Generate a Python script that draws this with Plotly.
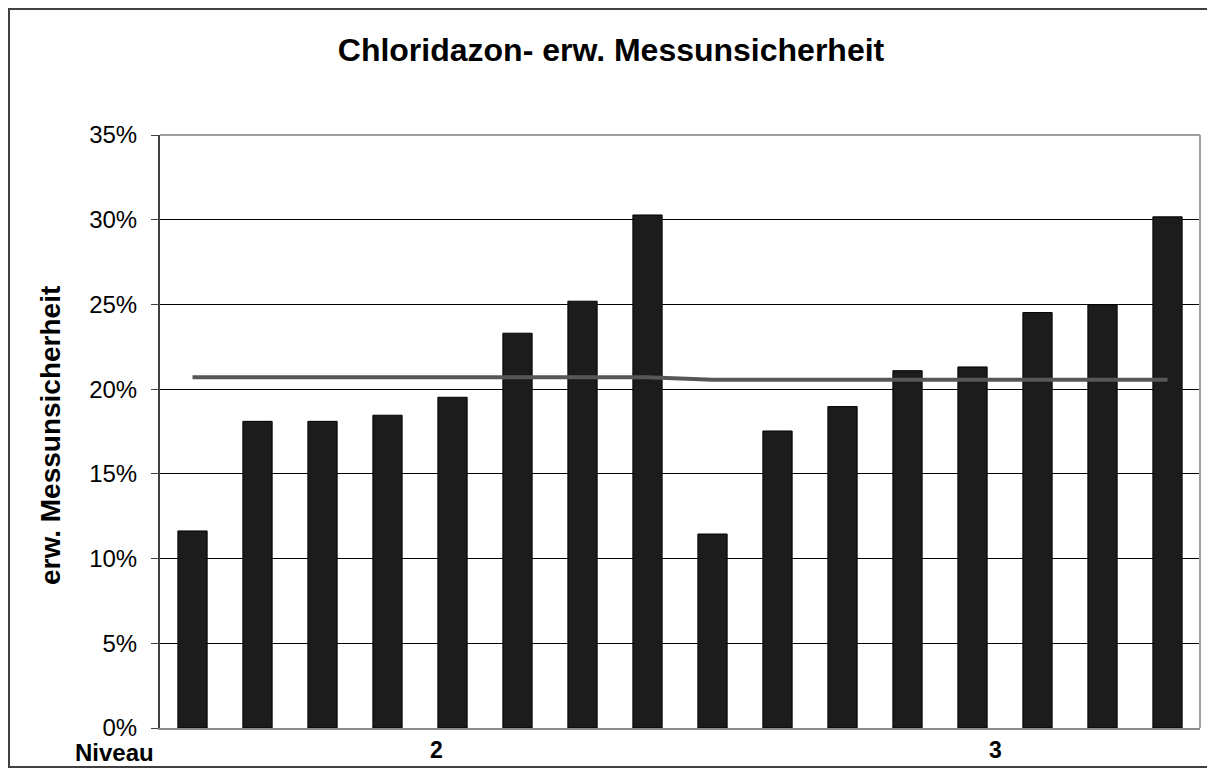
import plotly.graph_objects as go

# Messunsicherheit je Messung (in %), Niveau 2 und 3
niveau = ["2"] * 8 + ["3"] * 8
werte = [11.63, 18.10, 18.10, 18.46, 19.52, 23.30, 25.19, 30.28,
         11.45, 17.53, 18.97, 21.09, 21.31, 24.52, 24.99, 30.17]
mittel = [20.70] * 8 + [20.55] * 8
y_ticks = [0, 5, 10, 15, 20, 25, 30, 35]
y_labels = [f"{v}%" for v in y_ticks]

pos = list(range(len(werte)))
font = "Arial, Liberation Sans, sans-serif"

fig = go.Figure()
fig.add_trace(go.Bar(
    x=pos, y=werte,
    marker=dict(color="#1c1c1c", line=dict(color="#000000", width=1)),
    showlegend=False,
))
fig.add_trace(go.Scatter(
    x=pos, y=mittel, mode="lines",
    line=dict(color="#575757", width=4),
    showlegend=False,
))

# page has 8px body margin -> figure is 8px smaller, margins shifted
fig.update_layout(
    width=1207, height=762,
    margin=dict(l=152, r=15, t=127, b=42),
    paper_bgcolor="white", plot_bgcolor="white",
    bargap=0.55,
    font=dict(family=font, color="black"),
    title=dict(text="<b>Chloridazon- erw. Messunsicherheit</b>",
               x=(611 - 8) / 1207, xanchor="center", xref="container",
               y=1 - 42 / 762, yanchor="middle", yref="container",
               font=dict(size=32, family=font, color="black")),
)

fig.update_xaxes(
    range=[-0.5, 15.5], showticklabels=False, ticks="",
    showgrid=False, zeroline=False,
    showline=True, linecolor="#8c8c8c", linewidth=2,
)
fig.update_yaxes(
    range=[0, 35], tickvals=y_ticks, ticktext=y_labels,
    tickfont=dict(size=24, family=font, color="black"),
    ticks="outside", ticklen=7, tickcolor="#404040",
    ticklabelstandoff=9,
    showgrid=True, gridcolor="#000000", gridwidth=1,
    zeroline=False,
    showline=True, linecolor="#404040", linewidth=2,
)

# Rahmen des Diagrammbereichs (oben/rechts grau)
fig.add_shape(type="line", xref="paper", yref="paper", x0=0, x1=1, y0=1, y1=1,
              line=dict(color="#a0a0a0", width=2))
fig.add_shape(type="line", xref="paper", yref="paper", x0=1, x1=1, y0=0, y1=1,
              line=dict(color="#a0a0a0", width=2))
# aeusserer Rahmen
fig.add_shape(type="rect", xref="paper", yref="paper",
              x0=(1 - 152) / 1040, x1=(1203 - 152) / 1040,
              y0=(720 - 759) / 593, y1=(720 - 1) / 593,
              line=dict(color="#404040", width=2))

# Achsentitel und Kategorien
fig.add_annotation(text="<b>erw. Messunsicherheit</b>", xref="paper", yref="paper",
                   x=-0.1058, y=0.494, xanchor="center", yanchor="middle",
                   textangle=-90, showarrow=False,
                   font=dict(size=28, family=font, color="black"))
fig.add_annotation(text="<b>Niveau</b>", xref="paper", yref="paper",
                   x=-0.0442, y=-0.0405, xanchor="center", yanchor="middle",
                   showarrow=False,
                   font=dict(size=24, family=font, color="black"))
for lab, xp in [("2", 0.2663), ("3", 0.8029)]:
    fig.add_annotation(text=f"<b>{lab}</b>", xref="paper", yref="paper",
                       x=xp, y=-0.0372, xanchor="center", yanchor="middle",
                       showarrow=False,
                       font=dict(size=23, family=font, color="black"))

fig.write_html("out.html")
